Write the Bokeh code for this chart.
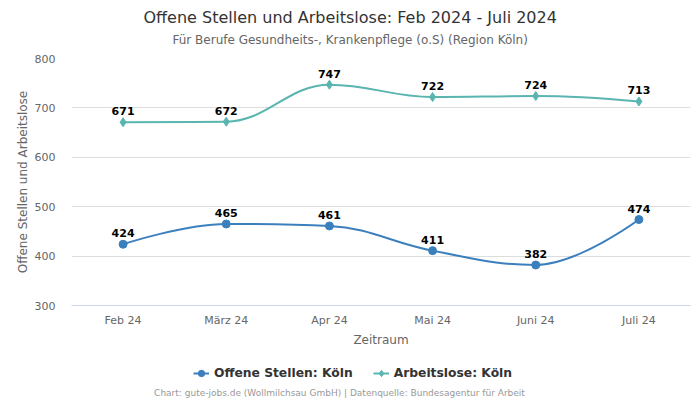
import math
from bokeh.plotting import figure
from bokeh.layouts import column
from bokeh.models import (Range1d, FixedTicker, Title, Legend, LegendItem, ColumnDataSource, Label)
from bokeh.core.properties import value
from bokeh.embed import file_html
from bokeh.resources import INLINE

months = ["Feb 24", "März 24", "Apr 24", "Mai 24", "Juni 24", "Juli 24"]
offene_stellen = [424, 465, 461, 411, 382, 474]
arbeitslose = [671, 672, 747, 722, 724, 713]
series_names = ["Offene Stellen: Köln", "Arbeitslose: Köln"]

BLUE = "#3b80bd"
TEAL = "#5ab5b0"
FONT = "DejaVu Sans"

xs = list(range(len(months)))


def spline(xv, yv, smoothing=1.5):
    n = len(xv)
    left = [(xv[i], yv[i]) for i in range(n)]
    right = [(xv[i], yv[i]) for i in range(n)]
    d = smoothing + 1
    for i in range(1, n - 1):
        x, y = xv[i], yv[i]
        lx, ly = xv[i - 1], yv[i - 1]
        nx, ny = xv[i + 1], yv[i + 1]
        lcx = (smoothing * x + lx) / d
        lcy = (smoothing * y + ly) / d
        rcx = (smoothing * x + nx) / d
        rcy = (smoothing * y + ny) / d
        corr = ((rcy - lcy) * (rcx - x)) / (rcx - lcx) + y - rcy
        lcy += corr
        rcy += corr
        if lcy > ly and lcy > y:
            lcy = max(ly, y); rcy = 2 * y - lcy
        elif lcy < ly and lcy < y:
            lcy = min(ly, y); rcy = 2 * y - lcy
        if rcy > ny and rcy > y:
            rcy = max(ny, y); lcy = 2 * y - rcy
        elif rcy < ny and rcy < y:
            rcy = min(ny, y); lcy = 2 * y - rcy
        left[i] = (lcx, lcy)
        right[i] = (rcx, rcy)
    return dict(
        x0=xv[:-1], y0=yv[:-1], x1=xv[1:], y1=yv[1:],
        cx0=[right[i][0] for i in range(n - 1)], cy0=[right[i][1] for i in range(n - 1)],
        cx1=[left[i][0] for i in range(1, n)], cy1=[left[i][1] for i in range(1, n)],
    )


# ---------------- main chart ----------------
p = figure(width=700, height=350, output_backend="svg", toolbar_location=None,
           x_range=Range1d(-0.5, 5.5), y_range=Range1d(300, 800),
           min_border_left=71, min_border_right=10, min_border_top=58, min_border_bottom=45)
p.title_location = None
p.outline_line_color = None
p.background_fill_color = "white"
p.border_fill_color = "white"

p.xaxis.ticker = FixedTicker(ticks=xs)
p.xaxis.major_label_overrides = {i: m for i, m in enumerate(months)}
p.xaxis.axis_line_color = "#ccd6eb"
p.xaxis.major_tick_line_color = None
p.xaxis.major_tick_out = 0
p.xaxis.major_tick_in = 0
p.xaxis.minor_tick_line_color = None
p.xaxis.major_label_text_font = FONT
p.xaxis.major_label_text_font_size = "11px"
p.xaxis.major_label_text_color = "#666666"
p.xaxis.major_label_standoff = 8
p.xaxis.axis_label = "Zeitraum"
p.xaxis.axis_label_text_font = FONT
p.xaxis.axis_label_text_font_size = "12px"
p.xaxis.axis_label_text_font_style = "normal"
p.xaxis.axis_label_text_color = "#666666"
p.xaxis.axis_label_standoff = 3

p.yaxis.ticker = FixedTicker(ticks=[300, 400, 500, 600, 700, 800])
p.yaxis.axis_line_color = None
p.yaxis.major_tick_line_color = None
p.yaxis.major_tick_out = 0
p.yaxis.major_tick_in = 0
p.yaxis.minor_tick_line_color = None
p.yaxis.major_label_text_font = FONT
p.yaxis.major_label_text_font_size = "11px"
p.yaxis.major_label_text_color = "#666666"
p.yaxis.major_label_standoff = 16
p.yaxis.axis_label = "Offene Stellen und Arbeitslose"
p.yaxis.axis_label_text_font = FONT
p.yaxis.axis_label_text_font_size = "12px"
p.yaxis.axis_label_text_font_style = "normal"
p.yaxis.axis_label_text_color = "#666666"
p.yaxis.axis_label_standoff = 2

p.xgrid.grid_line_color = None
p.ygrid.grid_line_color = "#dddddd"

seg_b = spline(xs, offene_stellen)
seg_t = spline(xs, arbeitslose)
p.bezier(source=ColumnDataSource(seg_b), x0="x0", y0="y0", x1="x1", y1="y1",
         cx0="cx0", cy0="cy0", cx1="cx1", cy1="cy1", line_color=BLUE, line_width=2)
p.bezier(source=ColumnDataSource(seg_t), x0="x0", y0="y0", x1="x1", y1="y1",
         cx0="cx0", cy0="cy0", cx1="cx1", cy1="cy1", line_color=TEAL, line_width=2)
p.scatter(xs, offene_stellen, marker="circle", size=8, color=BLUE)
p.scatter(xs, arbeitslose, marker="diamond", size=9, color=TEAL)

for vals in (offene_stellen, arbeitslose):
    p.text(x=xs, y=vals, text=[str(v) for v in vals], text_align="center",
           text_baseline="bottom", y_offset=-7, text_font=value(FONT),
           text_font_style="bold", text_font_size="11px", text_color="#000000")

# titles (first added = closest to the plot area)
p.add_layout(Title(text="Für Berufe Gesundheits-, Krankenpflege (o.S) (Region Köln)",
                   align="left", offset=101, vertical_align="top", standoff=17.6,
                   text_font=FONT, text_font_size="12px", text_font_style="normal",
                   text_color="#666666"), "above")
p.add_layout(Title(text="Offene Stellen und Arbeitslose: Feb 2024 - Juli 2024",
                   align="left", offset=72, vertical_align="bottom", standoff=-4.4,
                   text_font=FONT, text_font_size="16px", text_font_style="normal",
                   text_color="#333333"), "above")

# ---------------- legend + credits strip ----------------
q = figure(width=700, height=50, output_backend="svg", toolbar_location=None,
           x_range=Range1d(71, 690), y_range=Range1d(50, 0),
           x_axis_type=None, y_axis_type=None,
           min_border_left=71, min_border_right=10, min_border_top=0, min_border_bottom=0)
q.title_location = None
q.outline_line_color = None
q.xgrid.grid_line_color = None
q.ygrid.grid_line_color = None
q.background_fill_color = "white"
q.border_fill_color = "white"

nan = [math.nan]
lb = q.line(x=nan, y=nan, line_color=BLUE, line_width=2)
sb = q.scatter(x=nan, y=nan, marker="circle", size=8, color=BLUE)
lt = q.line(x=nan, y=nan, line_color=TEAL, line_width=2)
st = q.scatter(x=nan, y=nan, marker="diamond", size=9, color=TEAL)

legend = Legend(items=[
    LegendItem(label=series_names[0], renderers=[lb, sb]),
    LegendItem(label=series_names[1], renderers=[lt, st]),
], orientation="horizontal", location=(122, 19))
legend.border_line_color = None
legend.background_fill_alpha = 0
legend.label_text_font = FONT
legend.label_text_font_size = "12.3px"
legend.label_text_font_style = "bold"
legend.label_text_color = "#333333"
legend.glyph_width = 16
legend.glyph_height = 16
legend.label_height = 16
legend.padding = 0
legend.margin = 0
legend.spacing = 20
legend.label_standoff = 5
q.add_layout(legend)

q.add_layout(Label(x=339, y=42,
                   text="Chart: gute-jobs.de (Wollmilchsau GmbH) | Datenquelle: Bundesagentur für Arbeit",
                   text_align="center", text_baseline="middle", text_font=FONT,
                   text_font_size="9px", text_color="#999999"))

layout = column(p, q, spacing=0)
open("out.html", "w").write(file_html(layout, INLINE))
